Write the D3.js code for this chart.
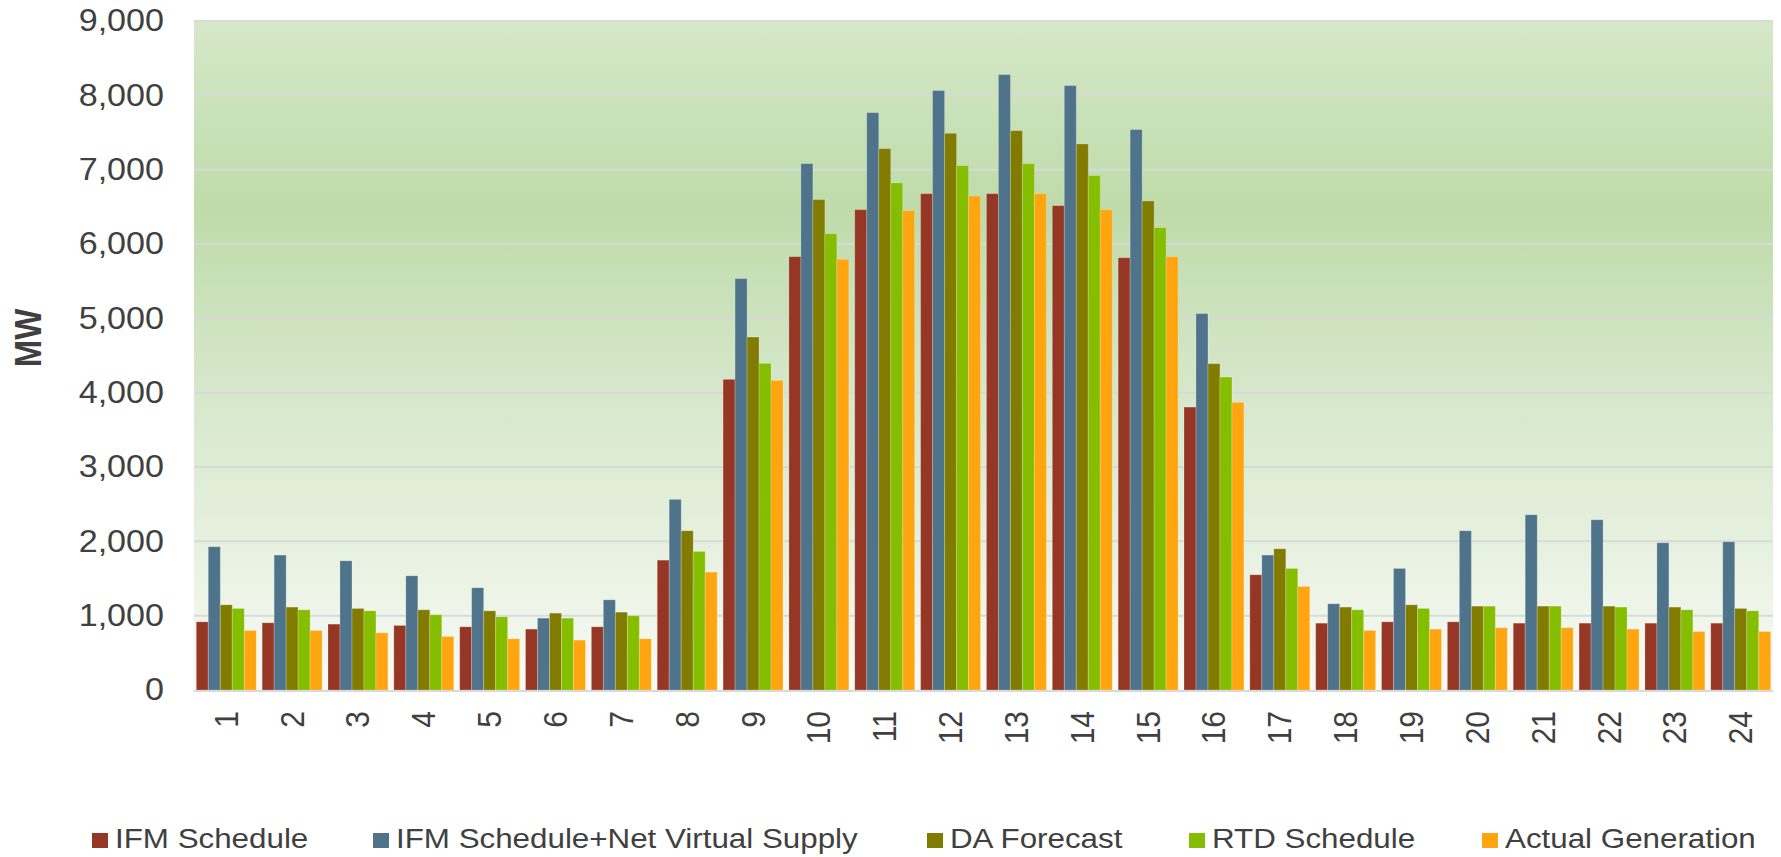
<!DOCTYPE html>
<html>
<head>
<meta charset="utf-8">
<script src="https://cdn.jsdelivr.net/npm/d3@7"></script>
<style>
  html, body { margin: 0; padding: 0; background: #ffffff; }
  svg { display: block; }
  text { font-family: "Liberation Sans", Arial, sans-serif; fill: #404040; }
</style>
</head>
<body>
<svg id="chart" width="1781" height="857"></svg>
<script>
// ---- Data ----
const hours = ["1","2","3","4","5","6","7","8","9","10","11","12","13","14","15","16","17","18","19","20","21","22","23","24"];
const seriesNames = ["IFM Schedule", "IFM Schedule+Net Virtual Supply", "DA Forecast", "RTD Schedule", "Actual Generation"];
const ifmSchedule = [917, 904, 886, 868, 850, 819, 850, 1747, 4179, 5830, 6462, 6677, 6677, 6516, 5816, 3806, 1550, 899, 917, 917, 899, 899, 899, 899];
const ifmNetVirtual = [1927, 1815, 1738, 1536, 1375, 967, 1213, 2564, 5534, 7081, 7767, 8064, 8279, 8131, 7539, 5063, 1815, 1160, 1635, 2142, 2357, 2290, 1981, 1994];
const daForecast = [1146, 1115, 1097, 1079, 1065, 1034, 1047, 2142, 4748, 6597, 7283, 7489, 7525, 7346, 6579, 4390, 1900, 1115, 1146, 1128, 1128, 1128, 1115, 1097];
const rtdSchedule = [1097, 1079, 1065, 1012, 985, 967, 998, 1864, 4394, 6139, 6821, 7054, 7081, 6920, 6220, 4210, 1635, 1079, 1097, 1128, 1128, 1115, 1079, 1065];
const actualGeneration = [801, 801, 769, 720, 689, 671, 689, 1586, 4165, 5794, 6449, 6646, 6677, 6462, 5830, 3869, 1393, 801, 819, 837, 837, 819, 787, 787];
const yTicks = [0, 1000, 2000, 3000, 4000, 5000, 6000, 7000, 8000, 9000];
const yLabel = "MW";

const colors = ["#963624", "#4E738A", "#817C00", "#85BD00", "#FFA50F"];
const seriesValues = [ifmSchedule, ifmNetVirtual, daForecast, rtdSchedule, actualGeneration];

// ---- Layout ----
const svg = d3.select("#chart");
const plot = { left: 194, right: 1773, top: 21, bottom: 690 };
const SX = 1.1; // horizontal text stretch seen in the reference

const x0 = d3.scaleBand().domain(hours).range([plot.left, plot.right]).paddingInner(0.09).paddingOuter(0.035);
const x1 = d3.scaleBand().domain(d3.range(seriesNames.length)).range([0, x0.bandwidth()]).padding(0);
const y = d3.scaleLinear().domain([0, 9000]).range([plot.bottom, plot.top]);

// background gradient
const defs = svg.append("defs");
const grad = defs.append("linearGradient").attr("id", "bg").attr("x1", 0).attr("y1", 0).attr("x2", 0).attr("y2", 1);
[[0, "#D5E8C8"], [0.28, "#BEDBA9"], [0.5, "#D2E5C5"], [0.75, "#E4EFDC"], [1, "#F8FBF5"]].forEach(s =>
  grad.append("stop").attr("offset", s[0]).attr("stop-color", s[1]));

svg.append("rect")
  .attr("x", plot.left).attr("y", plot.top)
  .attr("width", plot.right - plot.left).attr("height", plot.bottom - plot.top)
  .attr("fill", "url(#bg)");

// gridlines
svg.append("g").selectAll("line").data(yTicks.filter(d => d > 0)).join("line")
  .attr("x1", plot.left).attr("x2", plot.right)
  .attr("y1", d => y(d)).attr("y2", d => y(d))
  .attr("stroke", "#D9D9D9").attr("stroke-width", 2);

// y tick labels
svg.append("g").selectAll("text").data(yTicks).join("text")
  .attr("transform", d => `translate(164,${y(d)}) scale(${SX},1)`)
  .attr("text-anchor", "end")
  .attr("dominant-baseline", "central")
  .attr("font-size", 31)
  .text(d => d3.format(",")(d));

// bars
const groups = svg.append("g").selectAll("g").data(hours).join("g")
  .attr("transform", d => `translate(${x0(d)},0)`);
groups.selectAll("rect")
  .data((h, i) => seriesValues.map((vals, k) => ({ k, v: vals[i] })))
  .join("rect")
  .attr("x", d => x1(d.k))
  .attr("width", x1.bandwidth())
  .attr("y", d => y(d.v))
  .attr("height", d => y(0) - y(d.v))
  .attr("fill", d => colors[d.k])
  .attr("stroke", "rgba(255,255,255,0.22)")
  .attr("stroke-width", 1);

// baseline
svg.append("line")
  .attr("x1", plot.left).attr("x2", plot.right)
  .attr("y1", y(0) + 1).attr("y2", y(0) + 1)
  .attr("stroke", "#D9D9D9").attr("stroke-width", 2);

// x tick labels (rotated)
svg.append("g").selectAll("text").data(hours).join("text")
  .attr("transform", d => `translate(${x0(d) + x0.bandwidth() / 2},711) rotate(-90) scale(1,${SX})`)
  .attr("text-anchor", "end")
  .attr("dominant-baseline", "central")
  .attr("font-size", 30)
  .text(d => d);

// y axis title
svg.append("text")
  .attr("transform", `translate(28,338) rotate(-90) scale(1,${SX})`)
  .attr("text-anchor", "middle")
  .attr("dominant-baseline", "central")
  .attr("font-size", 33)
  .attr("font-weight", "bold")
  .text(yLabel);

// legend
const legendX = [92, 373, 927, 1189, 1482];
const legend = svg.append("g").selectAll("g").data(seriesNames).join("g")
  .attr("transform", (d, i) => `translate(${legendX[i]},0)`);
legend.append("rect")
  .attr("x", 0).attr("y", 833).attr("width", 16).attr("height", 15)
  .attr("fill", (d, i) => colors[i]);
legend.append("text")
  .attr("transform", `translate(23,848) scale(${SX},1)`)
  .attr("font-size", 28.5)
  .text(d => d);
</script>
</body>
</html>
